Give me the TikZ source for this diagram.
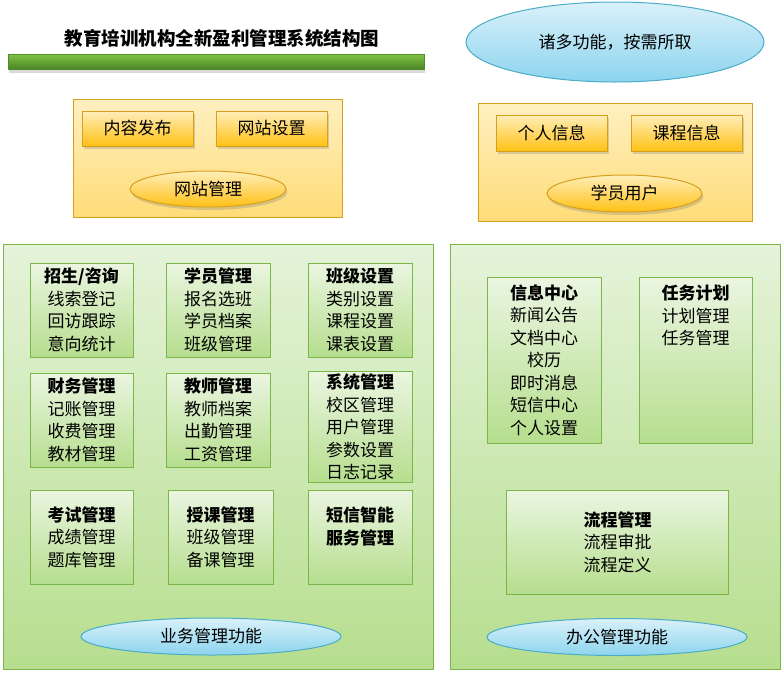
\documentclass[tikz,border=0pt]{standalone}
\usepackage{fontspec}
\setmainfont{Noto Sans CJK SC}
\usepackage{xcolor}
\usepackage{tikz}
\usetikzlibrary{shapes.geometric, shadows, positioning}
\definecolor{orgline}{RGB}{214,160,30}
\definecolor{orgtop}{RGB}{255,238,186}
\definecolor{orgbot}{RGB}{255,193,20}
\definecolor{bluline}{RGB}{75,172,198}
\definecolor{blutop}{RGB}{218,241,250}
\definecolor{blubot}{RGB}{140,212,238}
\definecolor{grnline}{RGB}{122,182,72}
\definecolor{grntop}{RGB}{229,243,217}
\definecolor{grnbot}{RGB}{182,222,142}
\tikzset{
  orgpanel/.style={rectangle, draw=orgline, line width=1pt, top color=orgtop!90!white, bottom color=orgtop!60!orgbot},
  grnpanel/.style={rectangle, draw=grnline, line width=1pt, top color=grntop, bottom color=grnbot},
  orgbox/.style={rectangle, draw=orgline, line width=1pt, top color=orgtop, bottom color=orgbot, minimum width=111pt, minimum height=35pt, drop shadow={shadow xshift=1.5pt, shadow yshift=-3pt, opacity=0.3}},
  orgoval/.style={ellipse, draw=orgline, line width=1pt, top color=orgtop, bottom color=orgbot, minimum width=156pt, minimum height=36pt, drop shadow={shadow xshift=1.5pt, shadow yshift=-3pt, opacity=0.3}},
  bluoval/.style={ellipse, draw=bluline, line width=1pt, top color=blutop, bottom color=blubot, minimum width=260pt, minimum height=37pt},
  funcbox/.style={rectangle, draw=grnline, line width=1pt, top color=grntop!80!white, bottom color=grnbot, minimum width=104pt, minimum height=94pt, align=center, inner sep=2pt},
}
\begin{document}
\begin{tikzpicture}[x=1pt, y=-1pt, font=\fontsize{17}{22.5}\selectfont]
  \useasboundingbox (0,0) rectangle (784,673);

  % Title
  \node[font=\fontsize{18.5}{22}\selectfont\bfseries] (title) at (222,38) {教育培训机构全新盈利管理系统结构图};
  \node[rectangle, draw={rgb,255:red,80;green,140;blue,40}, line width=0.8pt, top color={rgb,255:red,128;green,196;blue,70}, bottom color={rgb,255:red,76;green,132;blue,38}, minimum width=416pt, minimum height=15pt, inner sep=0pt, drop shadow={shadow xshift=1pt, shadow yshift=-4pt, opacity=0.3}] (bar) at (216,61.5) {};
  \node[bluoval, minimum width=298pt, minimum height=80pt] (motto) at (615,42) {诸多功能，按需所取};

  % Website admin
  \node[orgpanel, minimum width=269pt, minimum height=118pt] (webpanel) at (207.5,158) {};
  \node[orgbox] (content) at (137.5,128.5) {内容发布};
  \node[orgbox] (siteset) at (271.5,128.5) {网站设置};
  \node[orgoval] (webadmin) at (208,189) {网站管理};

  % Student user
  \node[orgpanel, minimum width=274pt, minimum height=118pt] (stupanel) at (615,162) {};
  \node[orgbox, minimum height=36pt] (personal) at (551.5,133) {个人信息};
  \node[orgbox, minimum height=36pt] (course) at (686.5,133) {课程信息};
  \node[orgoval, minimum width=155pt, minimum height=37pt] (stuuser) at (624.5,193.5) {学员用户};

  % Business functions
  \node[grnpanel, minimum width=430pt, minimum height=425pt] (bizpanel) at (218,456.5) {};
  \node[funcbox, minimum width=103pt] (enroll) at (81.5,310) {\textbf{招生/咨询}\\线索登记\\回访跟踪\\意向统计};
  \node[funcbox] (stuadmin) at (218,310) {\textbf{学员管理}\\报名选班\\学员档案\\班级管理};
  \node[funcbox] (classset) at (360,310) {\textbf{班级设置}\\类别设置\\课程设置\\课表设置};
  \node[funcbox, minimum width=103pt] (finance) at (81.5,420) {\textbf{财务管理}\\记账管理\\收费管理\\教材管理};
  \node[funcbox] (teacher) at (218,420) {\textbf{教师管理}\\教师档案\\出勤管理\\工资管理};
  \node[funcbox, minimum height=108pt] (sysadmin) at (360,427) {\textbf{系统管理}\\校区管理\\用户管理\\参数设置\\日志记录};
  \node[funcbox, minimum width=103pt] (exam) at (81.5,537) {\textbf{考试管理}\\成绩管理\\题库管理};
  \node[funcbox, minimum width=105pt] (teach) at (220.5,537) {\textbf{授课管理}\\班级管理\\备课管理};
  \node[funcbox] (sms) at (360,537) {\textbf{短信智能}\\\textbf{服务管理}\\~};
  \node[bluoval] (bizfunc) at (211,636.5) {业务管理功能};

  % Office functions
  \node[grnpanel, minimum width=330pt, minimum height=425pt] (officepanel) at (615,456.5) {};
  \node[funcbox, minimum width=114pt, minimum height=166pt] (infocenter) at (544,360) {\textbf{信息中心}\\新闻公告\\文档中心\\校历\\即时消息\\短信中心\\个人设置};
  \node[funcbox, minimum width=113pt, minimum height=166pt] (taskplan) at (695.5,360) {\textbf{任务计划}\\计划管理\\任务管理\\~\\~\\~\\~};
  \node[funcbox, minimum width=222pt, minimum height=104pt] (workflow) at (617.5,542) {\textbf{流程管理}\\流程审批\\流程定义};
  \node[bluoval] (officefunc) at (617,637) {办公管理功能};
\end{tikzpicture}
\end{document}
